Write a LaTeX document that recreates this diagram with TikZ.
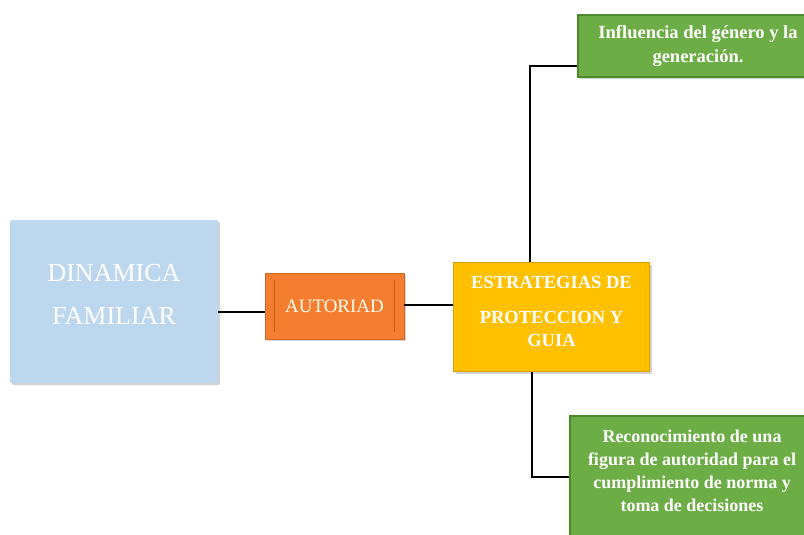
\documentclass[tikz,border=0pt]{standalone}
\usepackage{fontspec}
\setmainfont{Liberation Serif}
\usetikzlibrary{shadows}
\definecolor{bluef}{HTML}{BDD7EE}
\definecolor{orangef}{HTML}{F47D30}
\definecolor{oranged}{HTML}{C85A18}
\definecolor{goldf}{HTML}{FFC000}
\definecolor{goldd}{HTML}{D9A000}
\definecolor{greenf}{HTML}{6CAE45}
\definecolor{greend}{HTML}{4C8A2C}
\tikzset{
  boxbase/.style={rectangle, inner sep=2pt, align=center, text=white,
    drop shadow={opacity=0.35, shadow xshift=2pt, shadow yshift=-2pt}},
  bluebox/.style={boxbase, fill=bluef, rounded corners=1.5pt, font=\fontsize{26}{43}\selectfont},
  orangebox/.style={boxbase, fill=orangef, draw=orangef!85!black, line width=0.6pt, text=white!92!yellow, font=\fontsize{19}{22}\selectfont},
  goldbox/.style={boxbase, fill=goldf, draw=goldd, line width=1.5pt, font=\bfseries\fontsize{18.5}{23}\selectfont},
  greenbox/.style={boxbase, fill=greenf, draw=greend, line width=1.2pt, font=\bfseries\fontsize{18.5}{23.5}\selectfont},
  link/.style={draw=black, line width=2.2pt}
}
\begin{document}
\begin{tikzpicture}[x=1pt,y=-1pt]
\useasboundingbox (0,0) rectangle (804,535);
\clip (0,0) rectangle (804,535);
\node[bluebox, minimum width=208pt, minimum height=163pt] (dina) at (114,301.5) {};
\node[font=\fontsize{26}{43}\selectfont, text=white, align=center] (dinat) at (114,294) {DINAMICA\\FAMILIAR};
\node[orangebox, minimum width=139pt, minimum height=66pt] (auto) at (334.5,306) {AUTORIAD};
\draw[oranged, line width=0.8pt] ([xshift=10pt,yshift=-7pt]auto.north west) -- ([xshift=10pt,yshift=7pt]auto.south west);
\draw[oranged, line width=0.8pt] ([xshift=-10pt,yshift=-7pt]auto.north east) -- ([xshift=-10pt,yshift=7pt]auto.south east);
\node[goldbox, minimum width=196pt, minimum height=109pt] (estr) at (551.5,317) {};
\node[font=\bfseries\fontsize{18.5}{23}\selectfont, text=white, align=center] (estrt) at (551.5,311) {ESTRATEGIAS DE\\[12pt]PROTECCION Y\\GUIA};
\node[greenbox, minimum width=240pt, minimum height=62pt] (top) at (698,46) {Influencia del género y la\\generación.};
\node[greenbox, minimum width=244pt, minimum height=128pt] (bot) at (692,480) {};
\node[font=\bfseries\fontsize{18}{23}\selectfont, text=white, align=center] (bott) at (692,471) {Reconocimiento de una\\figura de autoridad para el\\cumplimiento de norma y\\toma de decisiones};
\draw[link] (dina.east |- 0,312) -- (auto.west |- 0,312);
\draw[link] (auto.east |- 0,305) -- (estr.west |- 0,305);
\draw[link] (estr.north -| 530,0) |- (top.west |- 0,66);
\draw[link] (estr.south -| 532,0) |- (bot.west |- 0,477);
\end{tikzpicture}
\end{document}
